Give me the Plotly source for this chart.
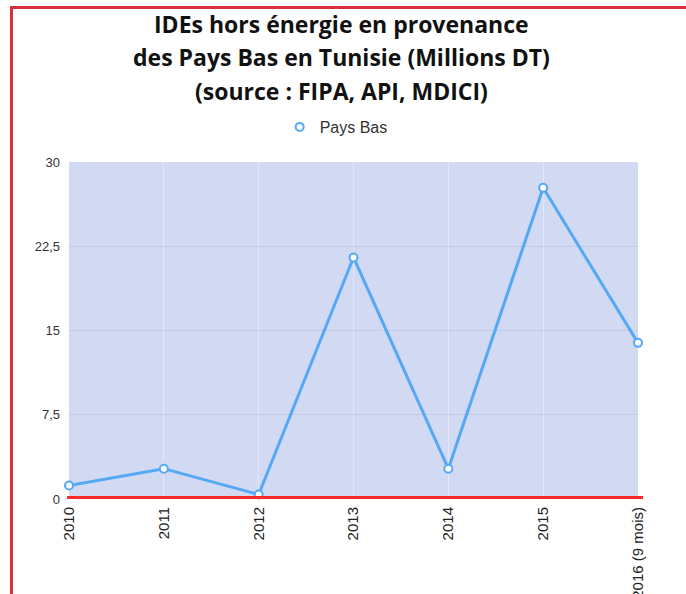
import plotly.graph_objects as go

# ---- data ----
categories = ["2010", "2011", "2012", "2013", "2014", "2015", "2016 (9 mois)"]
pays_bas = [1.2, 2.7, 0.4, 21.5, 2.7, 27.7, 13.9]
y_tickvals = [0, 7.5, 15, 22.5, 30]
y_ticktext = ["0", "7,5", "15", "22,5", "30"]
title_lines = [
    "IDEs hors énergie en provenance",
    "des Pays Bas en Tunisie (Millions DT)",
    "(source : FIPA, API, MDICI)",
]
series_name = "Pays Bas"

# ---- layout geometry ----
W, H = 686, 594
L, R, T, B = 69, 48, 162, 95
PW, PH = W - L - R, H - T - B


def px_x(px):
    return (px - L) / PW


def px_y(py):
    return (H - B - py) / PH


LINE_COLOR = "#55a9f2"
fig = go.Figure()
fig.add_trace(go.Scatter(
    x=list(range(len(categories))), y=pays_bas, mode="lines+markers",
    line=dict(color=LINE_COLOR, width=3),
    marker=dict(symbol="circle", size=8, color="white",
                line=dict(color=LINE_COLOR, width=2)),
    cliponaxis=False, showlegend=False, name=series_name,
))
fig.add_trace(go.Scatter(
    x=[None], y=[None], mode="markers", name=series_name,
    marker=dict(symbol="circle", size=8, color="white",
                line=dict(color=LINE_COLOR, width=2)),
))

# red zero line
fig.add_shape(type="line", xref="paper", yref="y", x0=px_x(67), x1=px_x(643),
              y0=0, y1=0, line=dict(color="#ff2a2a", width=6), layer="above")
# red frame
fig.add_shape(type="line", xref="paper", yref="paper", x0=px_x(10), x1=px_x(690),
              y0=px_y(7.5), y1=px_y(7.5), line=dict(color="#d8303a", width=3))
fig.add_shape(type="line", xref="paper", yref="paper", x0=px_x(11.5), x1=px_x(11.5),
              y0=px_y(6), y1=px_y(600), line=dict(color="#d8303a", width=3))

for i, line in enumerate(title_lines):
    fig.add_annotation(
        text="<b>" + line + "</b>", xref="paper", yref="paper",
        x=px_x(341), y=px_y(24 + 33.5 * i), xanchor="center", yanchor="middle",
        showarrow=False, font=dict(family="Open Sans", size=23, color="#111"),
    )

fig.update_layout(
    width=W, height=H,
    margin=dict(l=L, r=R, t=T, b=B, autoexpand=False),
    paper_bgcolor="white", plot_bgcolor="#d2d9f3",
    font=dict(family="Liberation Sans, Arial", size=13, color="#333"),
    legend=dict(orientation="h", xref="container", x=0.49, xanchor="center",
                y=px_y(127), yanchor="middle", font=dict(size=16, color="#333"),
                itemwidth=30),
)
fig.update_xaxes(
    type="linear", range=[0, len(categories) - 1],
    tickmode="array", tickvals=list(range(len(categories))), ticktext=categories,
    tickangle=-90, showgrid=True, gridcolor="rgba(232,237,250,0.7)", gridwidth=1,
    zeroline=False, showline=False, ticks="", automargin=False,
    ticklabelstandoff=4, tickfont=dict(size=15, color="#222"),
)
fig.update_yaxes(
    range=[0, 30], tickmode="array", tickvals=y_tickvals, ticktext=y_ticktext,
    showgrid=True, gridcolor="rgba(190,198,228,0.8)", gridwidth=1,
    zeroline=False, showline=False, ticks="", automargin=False,
    ticklabelstandoff=8, tickfont=dict(size=13, color="#333"),
)

fig.write_html("out.html", config={"displayModeBar": False},
               post_script="document.body.style.margin='0';")
